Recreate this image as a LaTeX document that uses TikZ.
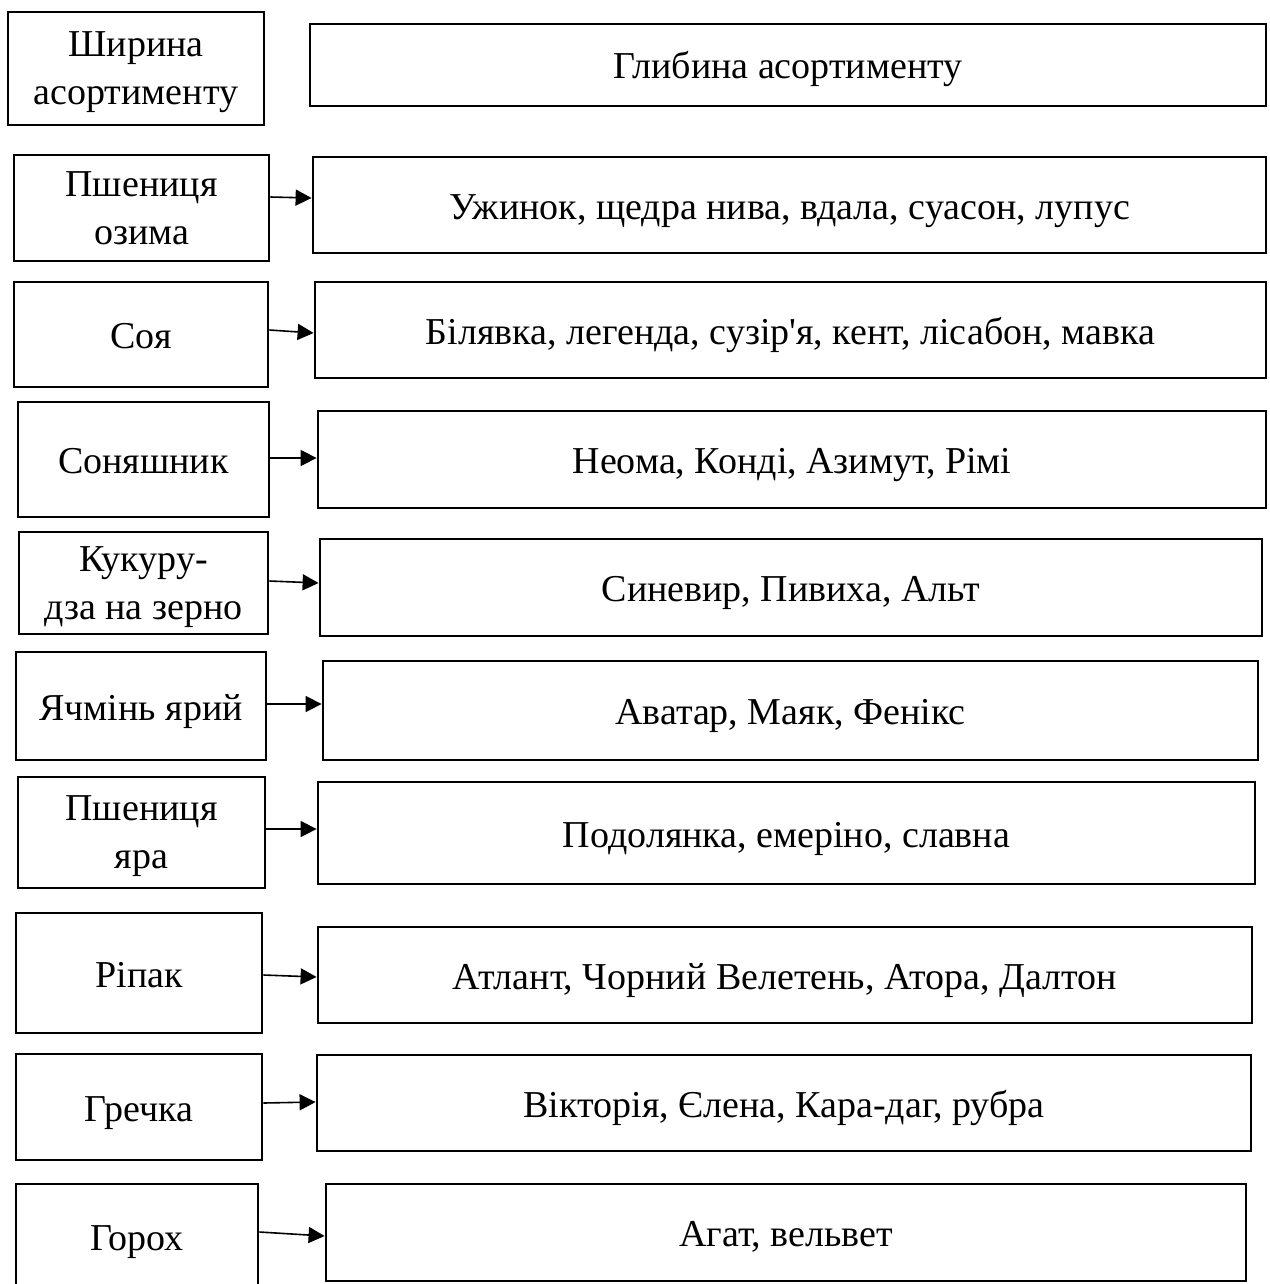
\documentclass[tikz,border=0pt]{standalone}
\usepackage{fontspec}
\setmainfont{Liberation Serif}[Ligatures=TeXOff]
\usepackage{tikz}
\usetikzlibrary{arrows.meta}

\tikzset{
  box/.style={draw, line width=1.4pt, inner sep=0pt, align=center, text depth=0pt,
    font=\fontsize{19}{24}\selectfont},
  single/.style={box, text height=14pt},
  arr/.style={line width=0.8pt, -{Triangle[length=8pt,width=8pt]}}
}

\begin{document}
\begin{tikzpicture}[x=0.5pt, y=-0.5pt]
  \useasboundingbox (0,0) rectangle (1269,1284);
  % crop / variety boxes
  \node[box, minimum width=128pt, minimum height=56.5pt] (l0) at (136,68.5) {Ширина\\асортименту};
  \node[single, minimum width=478pt, minimum height=41pt] (r0) at (788,65) {Глибина асортименту};
  \node[box, minimum width=127.5pt, minimum height=53pt] (l1) at (141.5,208) {Пшениця\\озима};
  \node[single, minimum width=476.5pt, minimum height=48pt] (r1) at (789.5,205) {Ужинок, щедра нива, вдала, суасон, лупус};
  \node[single, minimum width=127pt, minimum height=52.5pt] (l2) at (141,334.5) {Соя};
  \node[single, minimum width=475.5pt, minimum height=48pt] (r2) at (790.5,330) {Білявка, легенда, сузір'я, кент, лісабон, мавка};
  \node[single, minimum width=125.5pt, minimum height=57.5pt] (l3) at (143.5,459.5) {Соняшник};
  \node[single, minimum width=474pt, minimum height=48.5pt] (r3) at (792,459.5) {Неома, Конді, Азимут, Рімі};
  \node[box, minimum width=124.5pt, minimum height=51pt] (l4) at (143.5,583) {Кукуру-\\дза на зерно};
  \node[single, minimum width=471pt, minimum height=48.5pt] (r4) at (791,587.5) {Синевир, Пивиха, Альт};
  \node[single, minimum width=125pt, minimum height=54pt] (l5) at (141,706) {Ячмінь ярий};
  \node[single, minimum width=467.5pt, minimum height=49.5pt] (r5) at (790.5,710.5) {Аватар, Маяк, Фенікс};
  \node[box, minimum width=123.5pt, minimum height=55.5pt] (l6) at (141.5,832.5) {Пшениця\\яра};
  \node[single, minimum width=468.5pt, minimum height=51pt] (r6) at (786.5,833) {Подолянка, емеріно, славна};
  \node[single, minimum width=123pt, minimum height=60pt] (l7) at (139,973) {Ріпак};
  \node[single, minimum width=467pt, minimum height=48pt] (r7) at (785,975) {Атлант, Чорний Велетень, Атора, Далтон};
  \node[single, minimum width=123pt, minimum height=53pt] (l8) at (139,1107) {Гречка};
  \node[single, minimum width=467pt, minimum height=48pt] (r8) at (784,1103) {Вікторія, Єлена, Кара-даг, рубра};
  \node[single, minimum width=121pt, minimum height=52pt] (l9) at (137,1236) {Горох};
  \node[single, minimum width=460pt, minimum height=48.5pt] (r9) at (786,1232.5) {Агат, вельвет};
  % arrows
  \path[arr]
    (l1.east |- 0,197) edge (r1.west |- 0,198)
    (l2.east |- 0,330) edge (r2.west |- 0,333)
    (l3.east |- 0,458) edge (r3.west |- 0,458)
    (l4.east |- 0,581) edge (r4.west |- 0,583)
    (l5.east |- 0,704) edge (r5.west |- 0,704)
    (l6.east |- 0,829) edge (r6.west |- 0,829)
    (l7.east |- 0,975) edge (r7.west |- 0,977)
    (l8.east |- 0,1103) edge (r8.west |- 0,1102)
    (l9.east |- 0,1232) edge (r9.west |- 0,1236);
\end{tikzpicture}
\end{document}
